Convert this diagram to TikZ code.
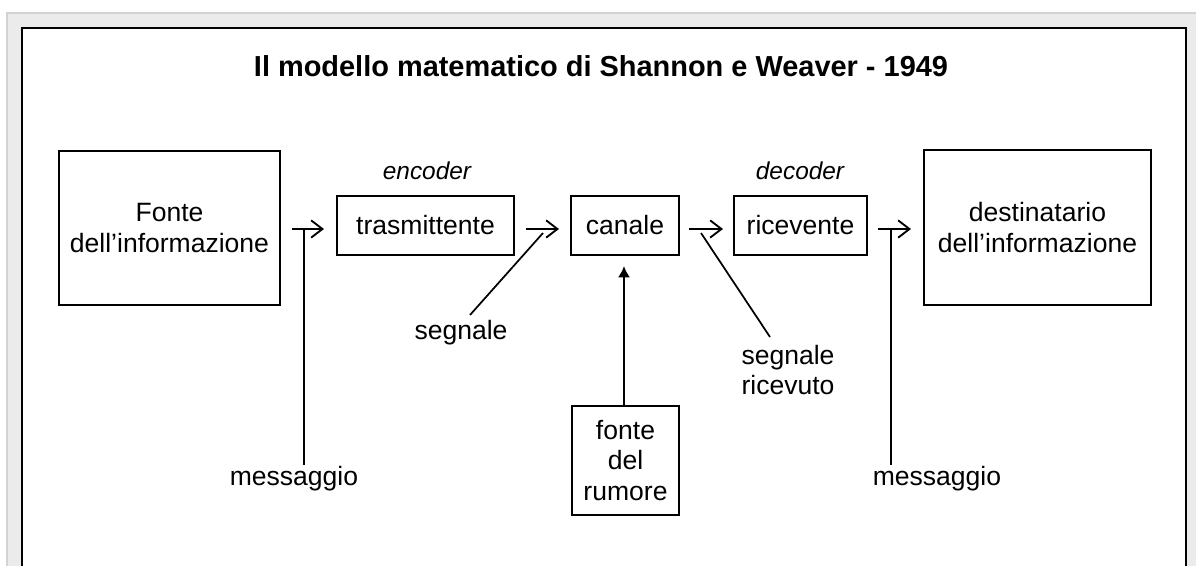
\documentclass[tikz,border=0pt]{standalone}
\usepackage{fontspec}
\setmainfont{Liberation Sans}
\usetikzlibrary{arrows.meta}
\definecolor{bandgrey}{HTML}{EBEBEB}
\definecolor{edgegrey}{HTML}{D2D2D2}
\begin{document}
\begin{tikzpicture}[x=0.75pt,y=-0.75pt,
  box/.style={draw=black,line width=1.8pt,inner sep=0pt,align=center,
    font=\fontsize{19.9pt}{23pt}\selectfont},
  lbl/.style={inner sep=0pt,align=center,font=\fontsize{19.9pt}{23pt}\selectfont},
  role/.style={inner sep=0pt,font=\fontsize{18.3pt}{22pt}\selectfont\itshape},
  titlestyle/.style={inner sep=0pt,font=\fontsize{21.7pt}{26pt}\selectfont\bfseries},
  flow/.style={line width=1.4pt,-{Straight Barb[length=8.5pt,width=13pt]}},
  lead/.style={line width=1.3pt},
  noise/.style={line width=1.4pt,-{Latex[length=8.5pt,width=9pt]}},
]
\useasboundingbox (0,0) rectangle (1196,565);
\clip (0,0) rectangle (1196,565);
% frame
\fill[bandgrey] (7,13) rectangle (1205,575);
\draw[edgegrey,line width=0.9pt] (7,575) -- (7,13) -- (1205,13);
\filldraw[fill=white,draw=black,line width=1.9pt] (22,28) rectangle (1186,590);

% title
\node[titlestyle] (title) at (601,66) {Il modello matematico di Shannon e Weaver - 1949};

% boxes
\node[box,minimum width=165.75pt,minimum height=115.5pt] (fonte) at (169.5,228)
  {Fonte\\dell’informazione};
\node[box,minimum width=132.75pt,minimum height=44.25pt] (trasm) at (425.5,225.5)
  {trasmittente};
\node[box,minimum width=81pt,minimum height=44.25pt] (canale) at (625,225.5)
  {canale};
\node[box,minimum width=99.75pt,minimum height=44.25pt] (ricev) at (800.5,225.5)
  {ricevente};
\node[box,minimum width=170.25pt,minimum height=116.25pt] (dest) at (1037.5,227.5)
  {destinatario\\dell’informazione};
\node[box,minimum width=80.25pt,minimum height=81.75pt] (rumore) at (625.5,460.5)
  {fonte\\del\\rumore};

% labels
\node[role] (enc) at (427,171) {encoder};
\node[role] (dec) at (800,171) {decoder};
\node[lbl] (segn) at (461,333) {segnale};
\node[lbl] (segnric) at (788,370) {segnale\\ricevuto};
\node[lbl] (msgL) at (294,479) {messaggio};
\node[lbl] (msgR) at (937,479) {messaggio};

% connector end points
\coordinate (a1s) at (292,229); \coordinate (a1e) at (324,229);
\coordinate (a2s) at (526,229); \coordinate (a2e) at (559,229);
\coordinate (a3s) at (689,229); \coordinate (a3e) at (723,229);
\coordinate (a4s) at (878,229); \coordinate (a4e) at (911,229);
\coordinate (m1top) at (304,230); \coordinate (m1bot) at (304,465);
\coordinate (m2top) at (891,230); \coordinate (m2bot) at (891,465);
\coordinate (s1top) at (543,233); \coordinate (s1bot) at (470,315);
\coordinate (s2top) at (701,233); \coordinate (s2bot) at (770,337);
\coordinate (ntip) at (624,266);

% connectors
\draw[flow] (a1s) -- (a1e);
\draw[flow] (a2s) -- (a2e);
\draw[flow] (a3s) -- (a3e);
\draw[flow] (a4s) -- (a4e);
\draw[lead] (m1top) -- (m1bot);
\draw[lead] (m2top) -- (m2bot);
\draw[lead] (s1top) -- (s1bot);
\draw[lead] (s2top) -- (s2bot);
\draw[noise] (rumore.north -| ntip) -- (ntip);
\end{tikzpicture}
\end{document}
